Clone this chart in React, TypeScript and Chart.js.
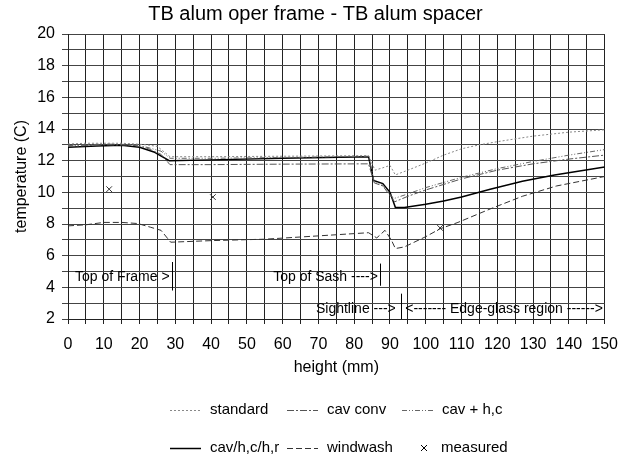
import React, { useEffect, useRef } from 'react';
import { Chart, registerables } from 'chart.js';

Chart.register(...registerables);

const FONT = "'Liberation Sans', Arial, Helvetica, sans-serif";
const TITLE = 'TB alum oper frame - TB alum spacer';

// standard
const standardX = [0, 5, 10, 15, 19, 22, 25, 28.5, 40, 60, 84, 85.8, 88, 90, 91.5, 95, 100, 105, 110, 115, 120, 130, 140, 150];
const standardY = [13.05, 13.1, 13.1, 13.1, 13.05, 13.0, 12.9, 12.25, 12.25, 12.28, 12.32, 11.4, 11.55, 11.7, 11.1, 11.4, 11.85, 12.35, 12.75, 13.0, 13.2, 13.55, 13.8, 13.95];

// cav conv
const cavConvX = [0, 10, 18, 22, 26, 28.5, 40, 60, 84, 85.6, 88, 91.3, 95, 100, 110, 120, 130, 140, 150];
const cavConvY = [12.9, 13.0, 12.98, 12.8, 12.4, 11.75, 11.75, 11.78, 11.8, 10.6, 10.4, 9.4, 9.75, 10.15, 10.85, 11.4, 11.8, 12.1, 12.35];

// cav + h,c
const cavHcX = [0, 10, 18, 22, 26, 28.5, 40, 60, 84, 85.6, 88, 91, 95, 100, 110, 120, 130, 140, 150];
const cavHcY = [12.95, 13.05, 13.02, 12.85, 12.6, 12.15, 12.15, 12.2, 12.28, 10.65, 10.45, 9.6, 9.9, 10.3, 10.95, 11.5, 11.95, 12.35, 12.7];

// cav/h,c/h,r
const cavHcHrX = [0, 8, 15, 20, 24, 28.3, 40, 60, 84, 85.4, 88, 90, 91.5, 94, 100, 105, 110, 118, 127, 136, 150];
const cavHcHrY = [12.85, 12.92, 12.97, 12.85, 12.55, 12.0, 12.05, 12.15, 12.25, 10.75, 10.55, 10.0, 9.05, 9.05, 9.25, 9.45, 9.7, 10.2, 10.7, 11.1, 11.6];

// windwash
const windwashX = [0, 5, 10, 15, 19.5, 23, 26, 28.7, 40, 55, 70, 84, 86.3, 88.6, 90.4, 91.5, 94, 100, 104, 109, 118, 127, 136.5, 150];
const windwashY = [7.88, 7.95, 8.1, 8.1, 8.03, 7.8, 7.6, 6.85, 6.95, 7.04, 7.25, 7.45, 7.12, 7.6, 6.98, 6.45, 6.55, 7.2, 7.7, 8.1, 8.95, 9.75, 10.4, 11.0];

// measured
const measuredX = [11.5, 40.5, 104];
const measuredY = [10.2, 9.7, 7.75];

// region annotations (text, x in mm, y in temperature)
const annotationTexts = ['Top of Frame >', 'Top of Sash ---->', 'Sightline --->', '<------- Edge-glass region ------>'];
const annotationX = [28.4, 86.6, 91.6, 149.5];
const annotationY = [4.65, 4.65, 2.6, 2.6];
const markerX = [29, 87.2, 93];
const markerYLow = [3.8, 4.1, 2];
const markerYHigh = [5.6, 5.5, 3.6];

const pts = (xs: number[], ys: number[]) => xs.map((x, i) => ({ x, y: ys[i] }));

const titlePlugin = {
  id: 'centredTitle',
  afterDraw(chart: any) {
    const { ctx, width } = chart;
    ctx.save();
    ctx.font = `20px ${FONT}`;
    ctx.fillStyle = '#000';
    ctx.textAlign = 'center';
    ctx.textBaseline = 'middle';
    ctx.fillText(TITLE, width / 2 + 1, 14);
    ctx.restore();
  },
};

const annotationPlugin = {
  id: 'regionNotes',
  afterDatasetsDraw(chart: any) {
    const { ctx, scales } = chart;
    const sx = scales.x, sy = scales.y;
    ctx.save();
    ctx.font = `14px ${FONT}`;
    ctx.fillStyle = '#000';
    ctx.textBaseline = 'middle';
    ctx.textAlign = 'right';
    annotationTexts.forEach((t, i) => {
      ctx.fillText(t, sx.getPixelForValue(annotationX[i]), sy.getPixelForValue(annotationY[i]));
    });
    ctx.strokeStyle = '#000';
    ctx.lineWidth = 1;
    markerX.forEach((m, i) => {
      const px = Math.round(sx.getPixelForValue(m)) + 0.5;
      ctx.beginPath();
      ctx.moveTo(px, sy.getPixelForValue(markerYLow[i]));
      ctx.lineTo(px, sy.getPixelForValue(markerYHigh[i]));
      ctx.stroke();
    });
    ctx.restore();
  },
};

const legendCols = [170, 287, 402];
const legendRows = [410, 448];

const legendPlugin = {
  id: 'twoRowLegend',
  afterDraw(chart: any) {
    const { ctx } = chart;
    ctx.save();
    ctx.font = `15px ${FONT}`;
    ctx.fillStyle = '#000';
    ctx.textBaseline = 'middle';
    ctx.textAlign = 'left';
    chart.data.datasets.forEach((ds: any, i: number) => {
      const x0 = legendCols[i % 3];
      const y0 = legendRows[Math.floor(i / 3)];
      if (ds.showLine === false) {
        const cx = x0 + 22;
        ctx.strokeStyle = '#000';
        ctx.lineWidth = 1;
        ctx.setLineDash([]);
        ctx.beginPath();
        ctx.moveTo(cx - 3, y0 - 3);
        ctx.lineTo(cx + 3, y0 + 3);
        ctx.moveTo(cx + 3, y0 - 3);
        ctx.lineTo(cx - 3, y0 + 3);
        ctx.stroke();
        ctx.fillText(ds.label, x0 + 39, y0);
      } else {
        ctx.strokeStyle = ds.borderColor;
        ctx.lineWidth = ds.borderWidth;
        ctx.setLineDash(ds.borderDash || []);
        ctx.beginPath();
        ctx.moveTo(x0, y0 + 0.5);
        ctx.lineTo(x0 + 31, y0 + 0.5);
        ctx.stroke();
        ctx.setLineDash([]);
        ctx.fillText(ds.label, x0 + 40, y0);
      }
    });
    ctx.restore();
  },
};

export default function App() {
  const ref = useRef<HTMLCanvasElement>(null);
  useEffect(() => {
    const canvas = ref.current!;
    Chart.defaults.font.family = FONT;
    Chart.defaults.color = '#000';
    const chart = new Chart(canvas, {
      type: 'line',
      data: {
        datasets: [
          { label: 'standard', data: pts(standardX, standardY), borderColor: '#888', borderWidth: 1, borderDash: [2, 2], pointRadius: 0, fill: false },
          { label: 'cav conv', data: pts(cavConvX, cavConvY), borderColor: '#555', borderWidth: 1, borderDash: [7, 2, 2, 2], pointRadius: 0, fill: false },
          { label: 'cav + h,c', data: pts(cavHcX, cavHcY), borderColor: '#666', borderWidth: 1, borderDash: [5, 2, 1, 2, 1, 2], pointRadius: 0, fill: false },
          { label: 'cav/h,c/h,r', data: pts(cavHcHrX, cavHcHrY), borderColor: '#000', borderWidth: 1.5, pointRadius: 0, fill: false },
          { label: 'windwash', data: pts(windwashX, windwashY), borderColor: '#333', borderWidth: 1, borderDash: [6, 3], pointRadius: 0, fill: false },
          { label: 'measured', data: pts(measuredX, measuredY), showLine: false, pointStyle: 'crossRot', pointRadius: 4, borderColor: '#333', borderWidth: 1, backgroundColor: '#333' },
        ] as any,
      },
      options: {
        responsive: false,
        animation: false,
        layout: { padding: { left: 0, right: 23, top: 34, bottom: 77 } },
        plugins: {
          legend: { display: false },
          tooltip: { enabled: false },
          title: { display: false },
        },
        scales: {
          x: {
            type: 'linear',
            min: 0,
            max: 150,
            ticks: {
              stepSize: 5,
              autoSkip: false,
              maxRotation: 0,
              color: '#000',
              font: { size: 16, family: FONT },
              padding: 11,
              callback: (v: any) => (Number(v) % 10 === 0 ? String(v) : ''),
            },
            grid: { color: '#222', lineWidth: 1, tickLength: 5 },
            border: { color: '#222' },
            title: { display: true, text: 'height (mm)', color: '#000', font: { size: 16, family: FONT }, padding: { top: 0, bottom: 2 } },
            afterFit: (s: any) => { s.height = 60; },
          },
          y: {
            min: 2,
            max: 20,
            ticks: {
              stepSize: 1,
              autoSkip: false,
              color: '#000',
              font: { size: 16, family: FONT },
              padding: 7,
              callback: (v: any) => (Number(v) % 2 === 0 ? String(v) : ''),
            },
            grid: { color: '#444', lineWidth: 1, tickLength: 6 },
            border: { color: '#222' },
            title: { display: true, text: 'temperature (C)', color: '#000', font: { size: 16, family: FONT }, padding: { top: 12, bottom: 0 } },
            afterFit: (s: any) => { s.width = 68; },
          },
        },
      } as any,
      plugins: [annotationPlugin, legendPlugin, titlePlugin],
    });
    return () => chart.destroy();
  }, []);
  return (
    <div style={{ position: 'fixed', left: 0, top: 0, width: 629, height: 456, background: '#fff' }}>
      <canvas ref={ref} width={629} height={456} style={{ display: 'block' }} />
    </div>
  );
}
